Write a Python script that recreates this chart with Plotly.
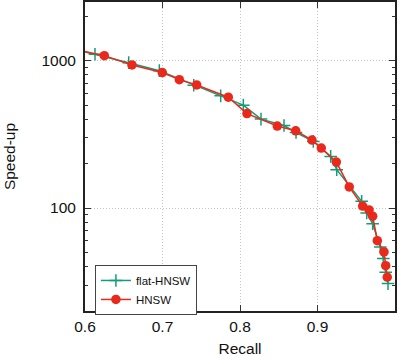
import plotly.graph_objects as go

# flat-HNSW series
flat_recall = [0.580, 0.6129, 0.6564, 0.6959, 0.7403, 0.7751, 0.8043, 0.8271, 0.8568, 0.8723,
               0.8946, 0.9170, 0.9248, 0.9570, 0.9635, 0.9712, 0.9810, 0.9849, 0.9880, 0.9910]
flat_speedup = [1215, 1105, 969, 855, 681, 577, 499, 401, 363, 325,
                283, 224, 182, 111, 92.5, 78.3, 54.4, 45.4, 36.6, 30.7]

# HNSW series
hnsw_recall = [0.580, 0.6249, 0.6606, 0.6997, 0.7217, 0.7441, 0.7849, 0.8090, 0.8481, 0.8719,
               0.8929, 0.9049, 0.9243, 0.9410, 0.9583, 0.9665, 0.9712, 0.9772, 0.9858, 0.9880, 0.9900]
hnsw_speedup = [1215, 1081, 935, 830, 743, 684, 565, 437, 360, 334,
                289, 255, 205, 139, 103, 97, 88, 60, 50.3, 40.6, 33.9]

x_ticks = [0.6, 0.7, 0.8, 0.9, 1.0]
x_tick_labels = ["0.6", "0.7", "0.8", "0.9", "1"]
y_ticks = [100, 1000]
y_tick_labels = ["100", "1000"]
y_minor_ticks = [20, 30, 40, 50, 60, 70, 80, 90, 200, 300, 400, 500, 600, 700, 800, 900, 2000]

GREEN = "#109e77"
RED = "#e8291c"
FONT = "Liberation Sans, Arial, sans-serif"

fig = go.Figure()
fig.add_trace(go.Scatter(
    x=flat_recall, y=flat_speedup, mode="lines+markers", name="flat-HNSW",
    line=dict(color=GREEN, width=1.5),
    marker=dict(symbol="cross-thin", size=9, line=dict(color=GREEN, width=1.5)),
))
fig.add_trace(go.Scatter(
    x=hnsw_recall, y=hnsw_speedup, mode="lines+markers", name="HNSW",
    line=dict(color=RED, width=1.5),
    marker=dict(symbol="circle", size=9.5, color=RED),
))

axis_common = dict(
    showline=True, linecolor="#222", linewidth=2, mirror="ticks",
    ticks="inside", ticklen=6, tickcolor="#333", tickwidth=1,
    showgrid=True, gridcolor="#c4c4c4", griddash="1px,2px", gridwidth=1,
    zeroline=False,
    tickfont=dict(family=FONT, size=15.5, color="#111"),
)

fig.update_xaxes(
    range=[0.6, 1.0], tickvals=x_ticks, ticktext=x_tick_labels,
    title=dict(text="Recall", font=dict(family=FONT, size=15.5, color="#111"), standoff=10),
    **axis_common,
)
fig.update_yaxes(
    type="log", range=[1.30103, 3.39794], tickvals=y_ticks, ticktext=y_tick_labels,
    minor=dict(ticks="inside", ticklen=3, tickcolor="#333", showgrid=False,
               tickvals=y_minor_ticks),
    ticklabelstandoff=4,
    title=dict(text="Speed-up", font=dict(family=FONT, size=15.5, color="#111"), standoff=22),
    **axis_common,
)

fig.update_layout(
    width=399, height=359,
    margin=dict(l=85, r=4, t=2, b=48, autoexpand=False),
    plot_bgcolor="white", paper_bgcolor="white",
    showlegend=True,
    legend=dict(
        x=0.032, y=0.149, xanchor="left", yanchor="top",
        bgcolor="white", bordercolor="#444", borderwidth=1,
        font=dict(family=FONT, size=11.5, color="#111"),
        tracegroupgap=0, itemwidth=30,
    ),
)

fig.write_html(
    "out.html",
    config={"displayModeBar": False},
    post_script="document.body.style.margin='0';document.body.style.overflow='hidden';",
)
